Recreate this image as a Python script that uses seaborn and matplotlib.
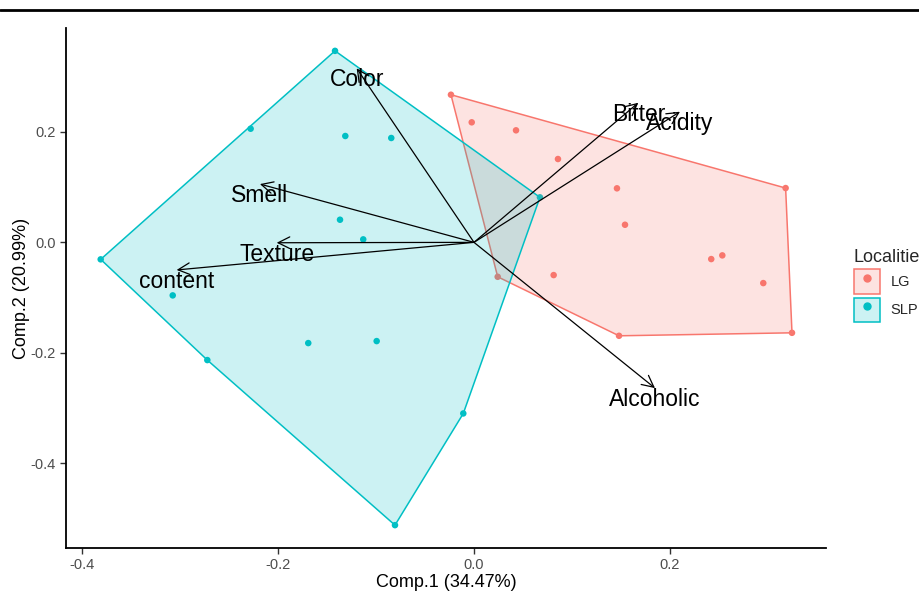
import numpy as np
import pandas as pd
import seaborn as sns
import matplotlib.pyplot as plt
from matplotlib.lines import Line2D
from matplotlib.patches import Patch
from matplotlib.legend_handler import HandlerTuple

sns.set_theme(style="white")
plt.rcParams["font.family"] = ["Liberation Sans", "DejaVu Sans"]

# individuals (PCA scores)
lg_x = [-0.0235, -0.0023, 0.0429, 0.0857, 0.1459, 0.3180, 0.1541,
        0.2421, 0.2534, 0.2952, 0.0813, 0.0242, 0.1480, 0.3245]
lg_y = [0.2675, 0.2175, 0.2030, 0.1510, 0.0979, 0.0984, 0.0319,
        -0.0303, -0.0236, -0.0738, -0.0593, -0.0624, -0.1693, -0.1639]
slp_x = [-0.1418, -0.2279, -0.1313, -0.0844, 0.0673, -0.1367, -0.1130,
         -0.3809, -0.3074, -0.1691, -0.0993, -0.2721, -0.0109, -0.0806]
slp_y = [0.3470, 0.2059, 0.1927, 0.1891, 0.0816, 0.0410, 0.0054,
         -0.0308, -0.0961, -0.1825, -0.1789, -0.2133, -0.3100, -0.5124]

# variables (loadings)
var_names = ["Color", "Smell", "Texture", "content", "Bitter", "Acidity", "Alcoholic"]
var_x = [-0.1197, -0.2184, -0.2013, -0.3034, 0.1677, 0.2102, 0.1847]
var_y = [0.3154, 0.1056, -0.0007, -0.0500, 0.2530, 0.2367, -0.2641]

groups = ["LG", "SLP"]
colors = {"LG": "#F8766D", "SLP": "#00BFC4"}

df = pd.DataFrame({
    "x": lg_x + slp_x,
    "y": lg_y + slp_y,
    "Localities": ["LG"] * len(lg_x) + ["SLP"] * len(slp_x),
})


def convex_hull(pts):
    pts = sorted(set(pts))
    def cross(o, a, b):
        return (a[0] - o[0]) * (b[1] - o[1]) - (a[1] - o[1]) * (b[0] - o[0])
    lower, upper = [], []
    for p in pts:
        while len(lower) >= 2 and cross(lower[-2], lower[-1], p) <= 0:
            lower.pop()
        lower.append(p)
    for p in reversed(pts):
        while len(upper) >= 2 and cross(upper[-2], upper[-1], p) <= 0:
            upper.pop()
        upper.append(p)
    return np.array(lower[:-1] + upper[:-1])


fig = plt.figure(figsize=(9.2, 5.93), dpi=100)
ax = fig.add_axes([66 / 920, 1 - 548 / 593, (826 - 66) / 920, (548 - 28) / 593])

sns.scatterplot(data=df, x="x", y="y", hue="Localities", palette=colors,
                s=22, linewidth=0, legend=False, ax=ax, zorder=2)

for g in groups:
    sub = df[df["Localities"] == g]
    hull = convex_hull(list(zip(sub["x"], sub["y"])))
    ax.fill(hull[:, 0], hull[:, 1], facecolor=colors[g], alpha=0.2, zorder=3)
    ax.fill(hull[:, 0], hull[:, 1], facecolor="none", edgecolor=colors[g],
            linewidth=1.1, zorder=3)

for name, vx, vy in zip(var_names, var_x, var_y):
    ax.annotate("", xy=(vx, vy), xytext=(0, 0),
                arrowprops=dict(arrowstyle="->,head_length=0.6,head_width=0.3",
                                color="black", lw=0.9, shrinkA=0, shrinkB=0,
                                mutation_scale=14), zorder=4)
    ax.text(vx, vy, name, ha="center", va="top", fontsize=16.5,
            color="black", zorder=5)

ax.set_xlim(-0.4163, 0.3592)
ax.set_ylim(-0.5538, 0.3884)
ax.set_xticks([-0.4, -0.2, 0.0, 0.2])
ax.set_xticklabels(["-0.4", "-0.2", "0.0", "0.2"])
ax.set_yticks([-0.4, -0.2, 0.0, 0.2])
ax.set_yticklabels(["-0.4", "-0.2", "0.0", "0.2"])
ax.set_xlabel("Comp.1 (34.47%)", fontsize=13, color="black", labelpad=1)
ax.set_ylabel("Comp.2 (20.99%)", fontsize=13, color="black", labelpad=0)
ax.tick_params(axis="both", which="both", length=4, width=1, color="#333333",
               labelcolor="#4D4D4D", labelsize=10.5, direction="out",
               bottom=True, left=True)
for side in ["top", "right"]:
    ax.spines[side].set_visible(False)
for side in ["left", "bottom"]:
    ax.spines[side].set_color("black")
    ax.spines[side].set_linewidth(1.3)

handles = []
for g in groups:
    box = Patch(facecolor=colors[g], alpha=0.2, edgecolor="none")
    edge = Patch(facecolor="none", edgecolor=colors[g], linewidth=1.1)
    dot = Line2D([], [], marker="o", linestyle="none", color=colors[g], markersize=5)
    handles.append((box, edge, dot))
leg = fig.legend(handles, groups, title="Localities",
                 handler_map={tuple: HandlerTuple(ndivide=1, pad=0)},
                 loc="upper left", bbox_to_anchor=(848 / 920, 1 - 243 / 593),
                 frameon=False, fontsize=10.5, title_fontsize=13,
                 handlelength=1.8, handleheight=2.2, labelspacing=0.25,
                 handletextpad=0.7, borderpad=0.4, borderaxespad=0,
                 alignment="left")

fig.add_artist(Line2D([0, 1], [1 - 9.5 / 593, 1 - 9.5 / 593],
                      transform=fig.transFigure, color="black", linewidth=2))

fig.savefig("out.png", dpi=100)
